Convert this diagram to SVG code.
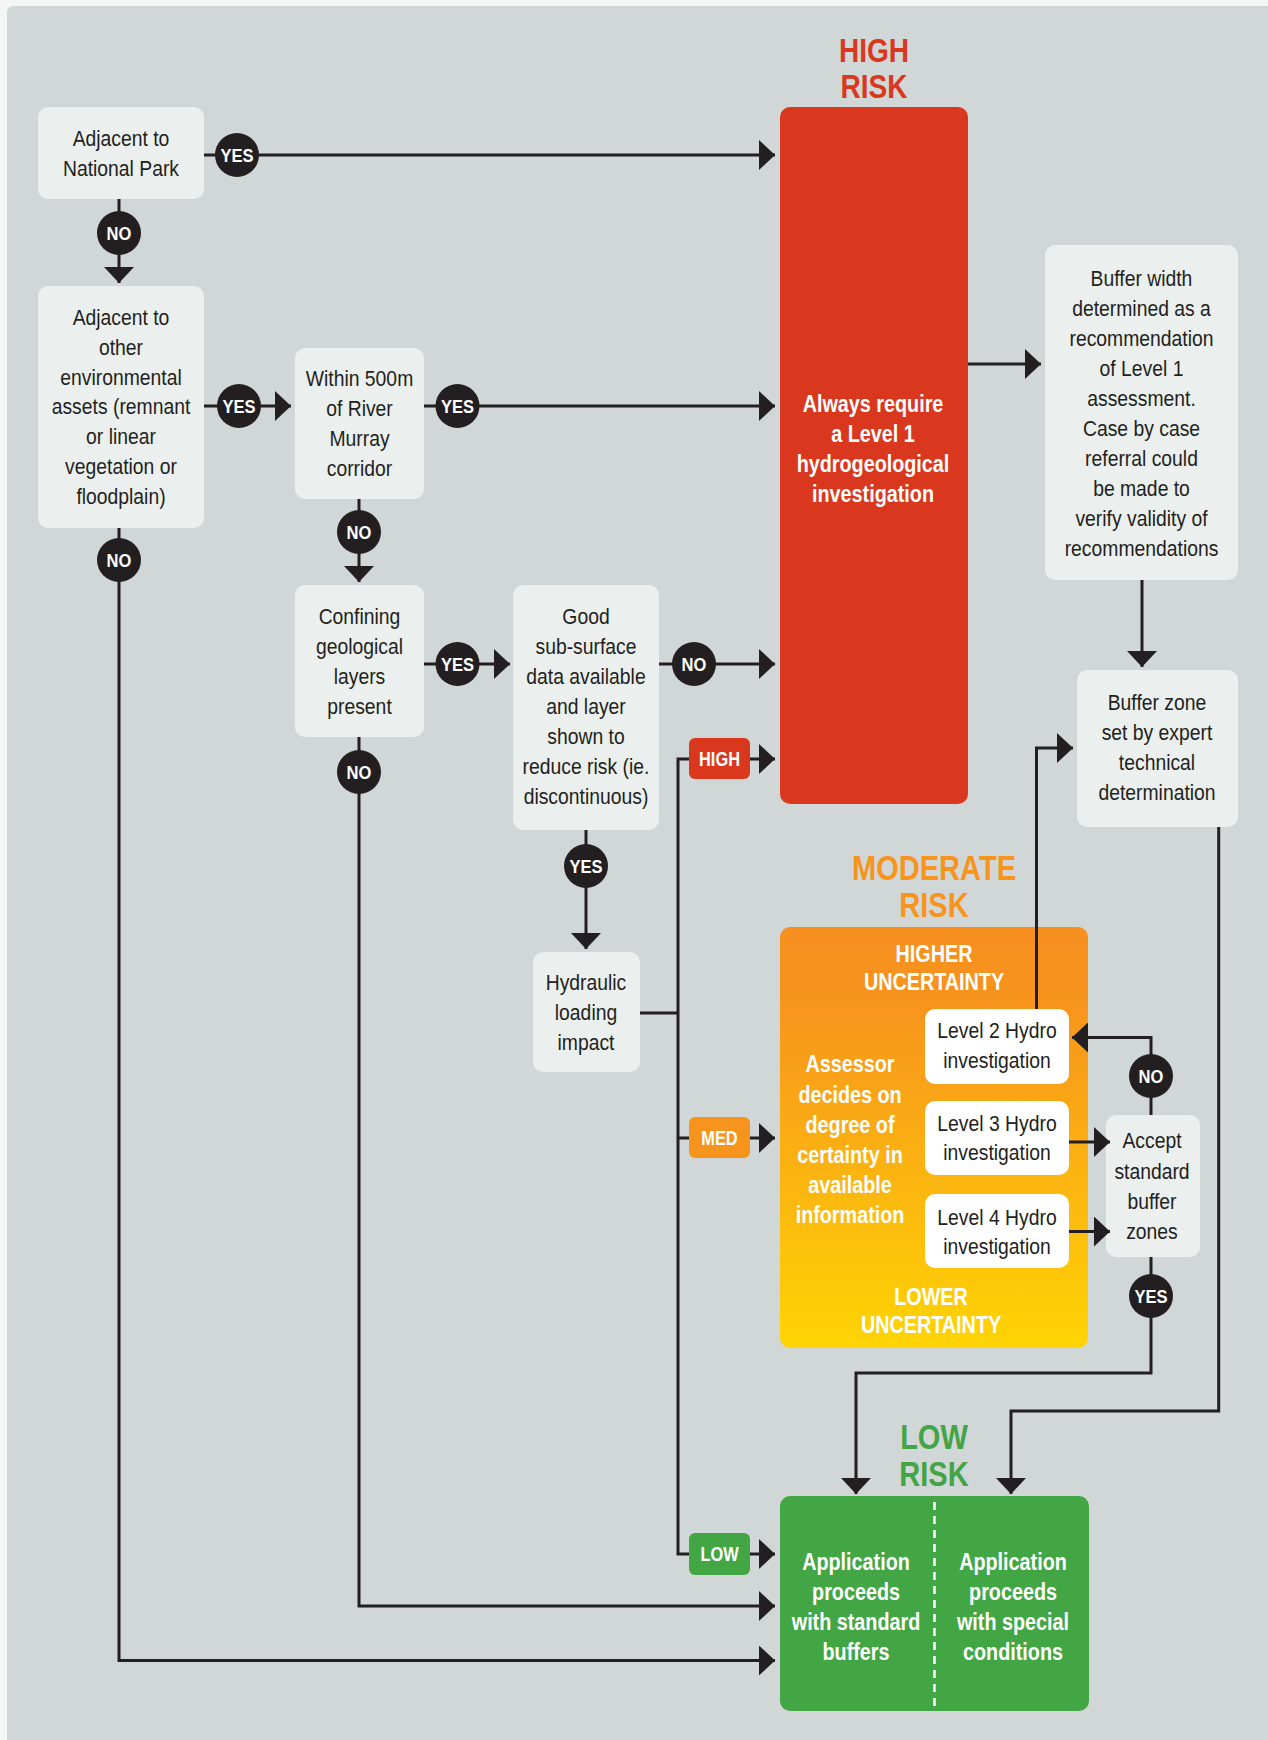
<svg xmlns="http://www.w3.org/2000/svg" width="1268" height="1740" viewBox="0 0 1268 1740">
<defs>
<style>
.panel{fill:#d1d7d7}
.node{fill:#ebefee}
.lvl{fill:#ffffff}
.t{font-family:"Liberation Sans",Arial,sans-serif;font-size:22.5px;fill:#231f20;text-anchor:middle}
.tb{font-family:"Liberation Sans",Arial,sans-serif;font-size:23px;font-weight:bold;fill:#ffffff;text-anchor:middle}
.title{font-family:"Liberation Sans",Arial,sans-serif;font-size:35px;font-weight:bold;text-anchor:middle}
.ln{fill:none;stroke:#231f20;stroke-width:3}
.arr{fill:none;stroke:#231f20;stroke-width:3;marker-end:url(#ah)}
.c{fill:#231f20}
.ct{font-family:"Liberation Sans",Arial,sans-serif;font-size:19px;font-weight:bold;fill:#ffffff;text-anchor:middle}
.lt{font-family:"Liberation Sans",Arial,sans-serif;font-size:19.5px;font-weight:bold;fill:#ffffff;text-anchor:middle}
</style>
<marker id="ah" markerUnits="userSpaceOnUse" markerWidth="16" markerHeight="30" refX="16" refY="15" orient="auto">
<path d="M0,0 L16,15 L0,30 Z" fill="#231f20"/>
</marker>
<linearGradient id="og" x1="0" y1="0" x2="0" y2="1">
<stop offset="0" stop-color="#f68f1f"/>
<stop offset="0.18" stop-color="#f7941d"/>
<stop offset="1" stop-color="#ffd404"/>
</linearGradient>
</defs>
<rect x="0" y="0" width="1268" height="1740" fill="#f3f6f5"/>
<rect class="panel" x="7" y="6" width="1275" height="1750" rx="6"/>

<g id="n-national-park">
<rect class="node" x="38" y="107" width="166" height="92" rx="10"/>
<text class="t" transform="translate(121 0) scale(.86 1)"><tspan x="0" y="146">Adjacent to</tspan><tspan x="0" y="176">National Park</tspan></text>
</g>
<g id="n-other-assets">
<rect class="node" x="38" y="286" width="166" height="242" rx="10"/>
<text class="t" transform="translate(121 0) scale(.86 1)"><tspan x="0" y="325">Adjacent to</tspan><tspan x="0" y="355">other</tspan><tspan x="0" y="385">environmental</tspan><tspan x="0" y="414.5">assets (remnant</tspan><tspan x="0" y="444">or linear</tspan><tspan x="0" y="474">vegetation or</tspan><tspan x="0" y="504">floodplain)</tspan></text>
</g>
<g id="n-river-murray">
<rect class="node" x="295" y="348" width="129" height="151" rx="10"/>
<text class="t" transform="translate(359.5 0) scale(.86 1)"><tspan x="0" y="386.5">Within 500m</tspan><tspan x="0" y="416">of River</tspan><tspan x="0" y="446">Murray</tspan><tspan x="0" y="476">corridor</tspan></text>
</g>
<g id="n-confining">
<rect class="node" x="295" y="585" width="129" height="152" rx="10"/>
<text class="t" transform="translate(359.5 0) scale(.86 1)"><tspan x="0" y="624">Confining</tspan><tspan x="0" y="654">geological</tspan><tspan x="0" y="684">layers</tspan><tspan x="0" y="714">present</tspan></text>
</g>
<g id="n-good-data">
<rect class="node" x="513" y="585" width="146" height="245" rx="10"/>
<text class="t" transform="translate(586 0) scale(.86 1)"><tspan x="0" y="624">Good</tspan><tspan x="0" y="654">sub-surface</tspan><tspan x="0" y="684">data available</tspan><tspan x="0" y="714">and layer</tspan><tspan x="0" y="744">shown to</tspan><tspan x="0" y="774">reduce risk (ie.</tspan><tspan x="0" y="804">discontinuous)</tspan></text>
</g>
<g id="n-hydraulic">
<rect class="node" x="533" y="952" width="107" height="120" rx="10"/>
<text class="t" transform="translate(586 0) scale(.86 1)"><tspan x="0" y="990">Hydraulic</tspan><tspan x="0" y="1020">loading</tspan><tspan x="0" y="1050">impact</tspan></text>
</g>

<g id="n-high-risk">
<text class="title" fill="#d9381e" font-size="33" style="font-size:33px" transform="translate(874 0) scale(.85 1)"><tspan x="0" y="62">HIGH</tspan><tspan x="0" y="98">RISK</tspan></text>
<rect x="780" y="107" width="188" height="697" rx="10" fill="#d9381e"/>
<text class="tb" transform="translate(873 0) scale(.86 1)"><tspan x="0" y="412.5">Always require</tspan><tspan x="0" y="442">a Level 1</tspan><tspan x="0" y="472">hydrogeological</tspan><tspan x="0" y="502">investigation</tspan></text>
</g>
<g id="n-buffer-width">
<rect class="node" x="1045" y="245" width="193" height="335" rx="10"/>
<text class="t" transform="translate(1141.5 0) scale(.86 1)"><tspan x="0" y="286">Buffer width</tspan><tspan x="0" y="316">determined as a</tspan><tspan x="0" y="346">recommendation</tspan><tspan x="0" y="376">of Level 1</tspan><tspan x="0" y="406">assessment.</tspan><tspan x="0" y="436">Case by case</tspan><tspan x="0" y="466">referral could</tspan><tspan x="0" y="496">be made to</tspan><tspan x="0" y="526">verify validity of</tspan><tspan x="0" y="556">recommendations</tspan></text>
</g>
<g id="n-buffer-zone">
<rect class="node" x="1077" y="670" width="161" height="157" rx="10"/>
<text class="t" transform="translate(1157 0) scale(.86 1)"><tspan x="0" y="710">Buffer zone</tspan><tspan x="0" y="740">set by expert</tspan><tspan x="0" y="770">technical</tspan><tspan x="0" y="800">determination</tspan></text>
</g>

<g id="n-moderate-risk">
<text class="title" fill="#f7941d" transform="translate(934 0) scale(.83 1)"><tspan x="0" y="880">MODERATE</tspan><tspan x="0" y="917">RISK</tspan></text>
<rect x="780" y="927" width="308" height="421" rx="10" fill="url(#og)"/>
<text class="tb" transform="translate(934 0) scale(.86 1)"><tspan x="0" y="962">HIGHER</tspan><tspan x="0" y="990">UNCERTAINTY</tspan></text>
<text class="tb" transform="translate(850 0) scale(.86 1)"><tspan x="0" y="1072.5">Assessor</tspan><tspan x="0" y="1103">decides on</tspan><tspan x="0" y="1133">degree of</tspan><tspan x="0" y="1163">certainty in</tspan><tspan x="0" y="1193">available</tspan><tspan x="0" y="1223.5">information</tspan></text>
<text class="tb" transform="translate(931 0) scale(.86 1)"><tspan x="0" y="1305">LOWER</tspan><tspan x="0" y="1333.5">UNCERTAINTY</tspan></text>
</g>
<g id="n-level2">
<rect class="lvl" x="925" y="1009" width="144" height="75" rx="10"/>
<text class="t" transform="translate(997 0) scale(.86 1)"><tspan x="0" y="1038.5">Level 2 Hydro</tspan><tspan x="0" y="1068">investigation</tspan></text>
</g>
<g id="n-level3">
<rect class="lvl" x="925" y="1101" width="144" height="74" rx="10"/>
<text class="t" transform="translate(997 0) scale(.86 1)"><tspan x="0" y="1131">Level 3 Hydro</tspan><tspan x="0" y="1160">investigation</tspan></text>
</g>
<g id="n-level4">
<rect class="lvl" x="925" y="1194" width="144" height="74" rx="10"/>
<text class="t" transform="translate(997 0) scale(.86 1)"><tspan x="0" y="1225">Level 4 Hydro</tspan><tspan x="0" y="1254.5">investigation</tspan></text>
</g>
<g id="n-accept">
<rect class="node" x="1106" y="1115" width="94" height="142" rx="10"/>
<text class="t" transform="translate(1152 0) scale(.86 1)"><tspan x="0" y="1148.5">Accept</tspan><tspan x="0" y="1179">standard</tspan><tspan x="0" y="1209">buffer</tspan><tspan x="0" y="1239">zones</tspan></text>
</g>

<g id="n-low-risk">
<text class="title" fill="#43a545" transform="translate(934 0) scale(.83 1)"><tspan x="0" y="1449">LOW</tspan><tspan x="0" y="1486">RISK</tspan></text>
<rect x="780" y="1496" width="309" height="215" rx="10" fill="#43a645"/>
<line x1="934.5" y1="1502" x2="934.5" y2="1711" stroke="#ffffff" stroke-width="2.5" stroke-dasharray="8,6"/>
<text class="tb" transform="translate(856 0) scale(.86 1)"><tspan x="0" y="1570">Application</tspan><tspan x="0" y="1600">proceeds</tspan><tspan x="0" y="1630">with standard</tspan><tspan x="0" y="1660">buffers</tspan></text>
<text class="tb" transform="translate(1013 0) scale(.86 1)"><tspan x="0" y="1570">Application</tspan><tspan x="0" y="1600">proceeds</tspan><tspan x="0" y="1630">with special</tspan><tspan x="0" y="1660">conditions</tspan></text>
</g>

<g id="connectors">
<line class="arr" x1="204" y1="155" x2="775" y2="155"/>
<line class="arr" x1="119" y1="199" x2="119" y2="283"/>
<line class="arr" x1="204" y1="406" x2="291" y2="406"/>
<line class="arr" x1="424" y1="406" x2="775" y2="406"/>
<line class="arr" x1="359" y1="499" x2="359" y2="582"/>
<line class="arr" x1="424" y1="664" x2="510" y2="664"/>
<line class="arr" x1="659" y1="664" x2="775" y2="664"/>
<line class="arr" x1="586" y1="830" x2="586" y2="949"/>
<path class="arr" d="M359,737 V1606 H775"/>
<path class="arr" d="M119,528 V1660.5 H775"/>
<path class="ln" d="M640,1013 H678"/>
<path class="ln" d="M689,759 H678 V1554 H689"/>
<path class="ln" d="M678,1138 H689"/>
<line class="arr" x1="750" y1="759" x2="775" y2="759"/>
<line class="arr" x1="750" y1="1138" x2="775" y2="1138"/>
<line class="arr" x1="750" y1="1554" x2="775" y2="1554"/>
<line class="arr" x1="968" y1="364" x2="1041" y2="364"/>
<line class="arr" x1="1142" y1="580" x2="1142" y2="667"/>
<path class="arr" d="M1036.5,1009 V748 H1073"/>
<path class="arr" d="M1151,1115 V1037.5 H1072"/>
<line class="arr" x1="1069" y1="1142" x2="1110" y2="1142"/>
<line class="arr" x1="1069" y1="1231.5" x2="1110" y2="1231.5"/>
<path class="arr" d="M1151,1257 V1373 H856 V1494"/>
<path class="arr" d="M1218.7,827 V1411 H1011 V1494"/>
</g>

<g id="risk-labels">
<rect x="689" y="738" width="61" height="41" rx="6" fill="#d9381e"/>
<text class="lt" transform="translate(719.5 0) scale(.84 1)" x="0" y="766">HIGH</text>
<rect x="689" y="1117" width="61" height="41" rx="6" fill="#f7941d"/>
<text class="lt" transform="translate(719.5 0) scale(.84 1)" x="0" y="1145">MED</text>
<rect x="689" y="1533" width="61" height="42" rx="6" fill="#43a645"/>
<text class="lt" transform="translate(719.5 0) scale(.84 1)" x="0" y="1561">LOW</text>
</g>

<g id="decision-badges">
<circle class="c" cx="237" cy="155" r="22"/><text class="ct" transform="translate(237 0) scale(.87 1)" x="0" y="162">YES</text>
<circle class="c" cx="119" cy="233" r="22"/><text class="ct" transform="translate(119 0) scale(.87 1)" x="0" y="240">NO</text>
<circle class="c" cx="239" cy="406" r="22"/><text class="ct" transform="translate(239 0) scale(.87 1)" x="0" y="413">YES</text>
<circle class="c" cx="457.5" cy="406" r="22"/><text class="ct" transform="translate(457.5 0) scale(.87 1)" x="0" y="413">YES</text>
<circle class="c" cx="359" cy="532" r="22"/><text class="ct" transform="translate(359 0) scale(.87 1)" x="0" y="539">NO</text>
<circle class="c" cx="119" cy="560" r="22"/><text class="ct" transform="translate(119 0) scale(.87 1)" x="0" y="567">NO</text>
<circle class="c" cx="457.5" cy="664" r="22"/><text class="ct" transform="translate(457.5 0) scale(.87 1)" x="0" y="671">YES</text>
<circle class="c" cx="694" cy="664" r="22"/><text class="ct" transform="translate(694 0) scale(.87 1)" x="0" y="671">NO</text>
<circle class="c" cx="359" cy="772" r="22"/><text class="ct" transform="translate(359 0) scale(.87 1)" x="0" y="779">NO</text>
<circle class="c" cx="586" cy="866" r="22"/><text class="ct" transform="translate(586 0) scale(.87 1)" x="0" y="873">YES</text>
<circle class="c" cx="1151" cy="1076" r="22"/><text class="ct" transform="translate(1151 0) scale(.87 1)" x="0" y="1083">NO</text>
<circle class="c" cx="1151" cy="1296" r="22"/><text class="ct" transform="translate(1151 0) scale(.87 1)" x="0" y="1303">YES</text>
</g>
</svg>
